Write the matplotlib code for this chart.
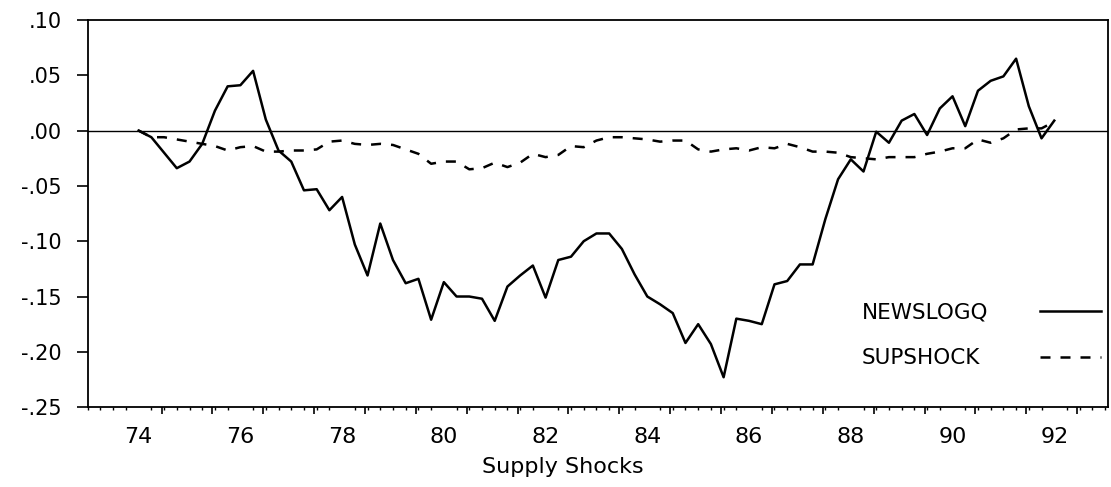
import numpy as np
import pandas as pd
import matplotlib
matplotlib.use("Agg")
import matplotlib.pyplot as plt
from matplotlib.ticker import FuncFormatter, FixedLocator

# quarterly sample 1974:1 - 1992:1
quarters = pd.period_range("1974Q1", "1992Q1", freq="Q")
t = np.array([q.year + (q.quarter - 1) / 4 for q in quarters])

newslogq = [0.000, -0.006, -0.020, -0.034, -0.028, -0.012, 0.018, 0.040, 0.041, 0.054,
            0.010, -0.018, -0.028, -0.054, -0.053, -0.072, -0.060, -0.103, -0.131, -0.084,
            -0.117, -0.138, -0.134, -0.171, -0.137, -0.150, -0.150, -0.152, -0.172, -0.141,
            -0.131, -0.122, -0.151, -0.117, -0.114, -0.100, -0.093, -0.093, -0.107, -0.130,
            -0.150, -0.157, -0.165, -0.192, -0.175, -0.193, -0.223, -0.170, -0.172, -0.175,
            -0.139, -0.136, -0.121, -0.121, -0.080, -0.044, -0.026, -0.037, -0.001, -0.011,
            0.009, 0.015, -0.004, 0.020, 0.031, 0.004, 0.036, 0.045, 0.049, 0.065,
            0.022, -0.007, 0.009]

supshock = [0.000, -0.006, -0.006, -0.008, -0.010, -0.012, -0.014, -0.018, -0.015, -0.014,
            -0.019, -0.019, -0.018, -0.018, -0.017, -0.010, -0.009, -0.012, -0.013, -0.012,
            -0.013, -0.017, -0.021, -0.030, -0.028, -0.028, -0.035, -0.034, -0.029, -0.033,
            -0.029, -0.021, -0.024, -0.022, -0.014, -0.015, -0.009, -0.006, -0.006, -0.007,
            -0.008, -0.010, -0.009, -0.009, -0.017, -0.019, -0.017, -0.016, -0.018, -0.015,
            -0.016, -0.012, -0.015, -0.019, -0.019, -0.020, -0.024, -0.025, -0.026, -0.024,
            -0.024, -0.024, -0.021, -0.019, -0.016, -0.016, -0.008, -0.011, -0.007, 0.001,
            0.002, 0.002, 0.008]

year_labels = ["74", "76", "78", "80", "82", "84", "86", "88", "90", "92"]
label_years = [1974, 1976, 1978, 1980, 1982, 1984, 1986, 1988, 1990, 1992]
y_ticks = [0.10, 0.05, 0.00, -0.05, -0.10, -0.15, -0.20, -0.25]

plt.rcParams['font.family'] = ['DejaVu Sans']

fig = plt.figure(figsize=(11.11, 4.87), dpi=100)
ax = fig.add_axes([0.079, 0.164, 0.918, 0.795])

ax.plot(t, newslogq, color='black', lw=1.8, label='NEWSLOGQ')
ax.plot(t, supshock, color='black', lw=1.8, dashes=(4, 4), label='SUPSHOCK')
ax.axhline(0, color='black', lw=1.0)

ax.set_xlim(1973.0, 1993.05)
ax.set_ylim(-0.25, 0.10)

# y axis
ax.set_yticks(y_ticks)
ax.yaxis.set_major_formatter(FuncFormatter(lambda v, p: f"{v:.2f}".replace("0.", ".", 1)))
ax.tick_params(axis='y', direction='out', length=8, width=1.2, pad=11, labelsize=15)

# x axis: labels at even years, small ticks each quarter
ax.set_xticks(label_years)
ax.set_xticklabels(year_labels)
ax.xaxis.set_minor_locator(FixedLocator(np.arange(1973.0, 1993.1, 0.25)))
ax.tick_params(axis='x', which='major', length=0, pad=14, labelsize=16)
ax.tick_params(axis='x', which='minor', direction='out', length=2, width=1)

# yearly tick marks, offset from the labels as in the original
sec = ax.secondary_xaxis('bottom')
sec.set_xticks(np.arange(1974.45, 1993, 1.0))
sec.set_xticklabels([])
sec.tick_params(direction='out', length=5, width=1.2)
sec.spines['bottom'].set_visible(False)

for s in ax.spines.values():
    s.set_linewidth(1.3)

ax.set_xlabel('Supply Shocks', fontsize=16)
ax.xaxis.set_label_coords(0.466, -0.13)

leg = ax.legend(loc='center right', bbox_to_anchor=(1.012, 0.185), frameon=False,
                markerfirst=False, fontsize=15.5, handlelength=2.8, handletextpad=2.4,
                labelspacing=1.2)

# left-align the labels and line the samples up in one column
renderer = fig.canvas.get_renderer()
widths = [txt.get_window_extent(renderer).width for txt in leg.get_texts()]
wmax = max(widths)
for col in leg._legend_handle_box.get_children():
    col.align = 'left'
    for row, w in zip(col.get_children(), widths):
        row.sep += (wmax - w) * 72.0 / fig.dpi

fig.savefig('out.png', dpi=100)
